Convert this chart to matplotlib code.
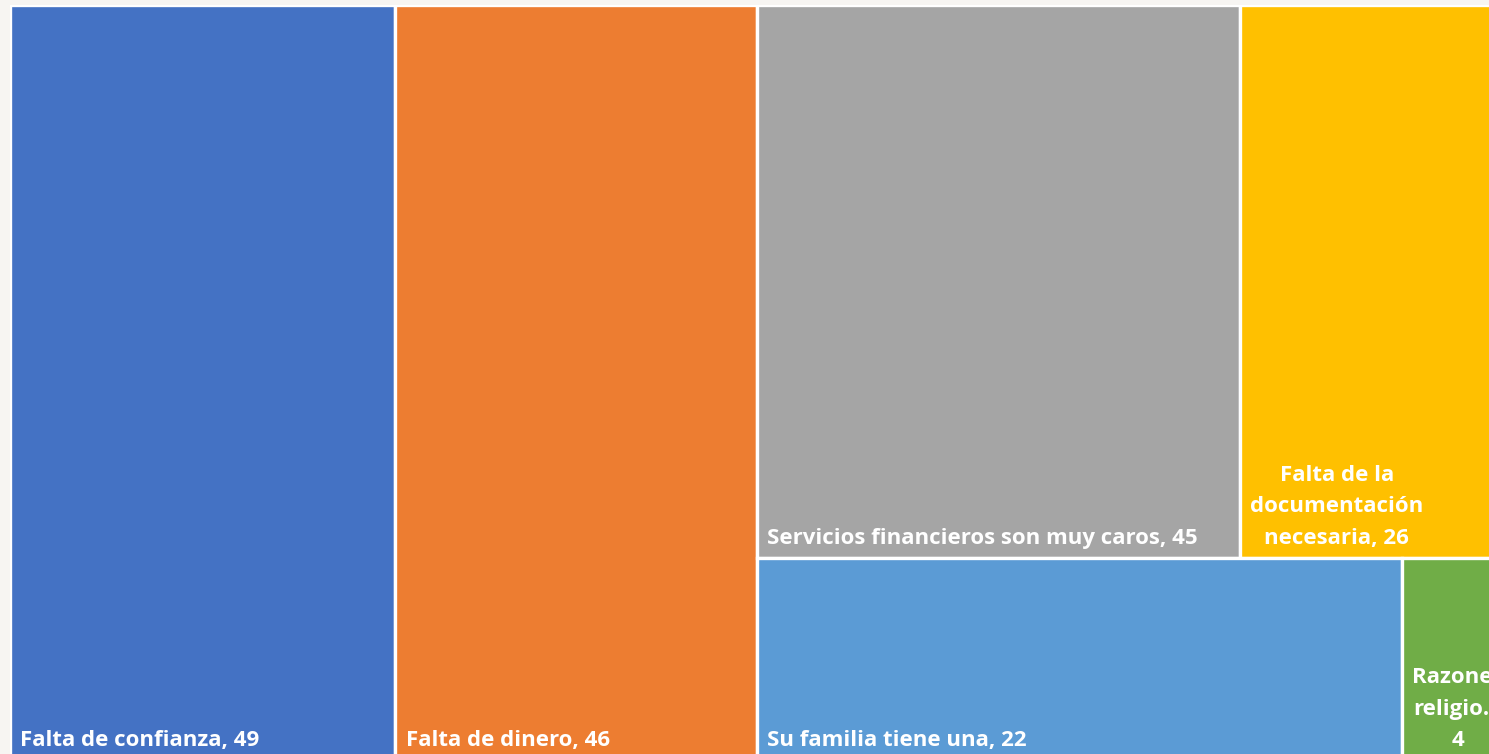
import matplotlib
matplotlib.use('Agg')
import matplotlib.pyplot as plt
import matplotlib.patches as mpatches

# razones para no tener cuenta
names = ["Falta de confianza", "Falta de dinero", "Servicios financieros son muy caros",
         "Falta de la\ndocumentación\nnecesaria", "Su familia tiene una", "Razones\nreligio..."]
seps = [", ", ", ", ", ", ", ", ", ", "\n"]
values = [49, 46, 45, 26, 22, 4]
colours = ["#4472C4", "#ED7D31", "#A5A5A5", "#FFC000", "#5B9BD5", "#70AD47"]

# layout: two single columns, then a column with two rows
groups = [[[0]], [[1]], [[2, 3], [4, 5]]]

fig = plt.figure(figsize=(14.89, 7.54), dpi=100, facecolor='#f7f5f2')
W, H = 1509.0, 755.0
ax = fig.add_axes([10 / 1489, -6 / 754, W / 1489, H / 754])
ax.set_facecolor('white')
total = float(sum(values))
ax.set_xlim(0, 1)
ax.set_ylim(0, 1)
ax.axis('off')

rects = {}
x = 0.0
for col in groups:
    col_sum = sum(values[i] for row in col for i in row)
    cw = col_sum / total
    y = 1.0
    for row in col:
        row_sum = sum(values[i] for i in row)
        rh = row_sum / col_sum
        y -= rh
        xx = x
        for i in row:
            w = cw * values[i] / row_sum
            rects[i] = (xx, y, w, rh)
            xx += w
    x += cw

for i, (rx, ry, rw, rh) in rects.items():
    ax.add_patch(mpatches.Rectangle((rx, ry), rw, rh, facecolor=colours[i],
                                    edgecolor='white', linewidth=2.4))
    ax.annotate(names[i] + seps[i] + str(values[i]), xy=(rx, ry),
                xytext=(7.5, 10), textcoords='offset points',
                ha='left', va='baseline', multialignment='center',
                color='white', fontsize=16, fontweight='bold',
                family=['Open Sans', 'DejaVu Sans'], linespacing=1.65,
                annotation_clip=False)

fig.savefig('out.png', dpi=100, facecolor=fig.get_facecolor())
